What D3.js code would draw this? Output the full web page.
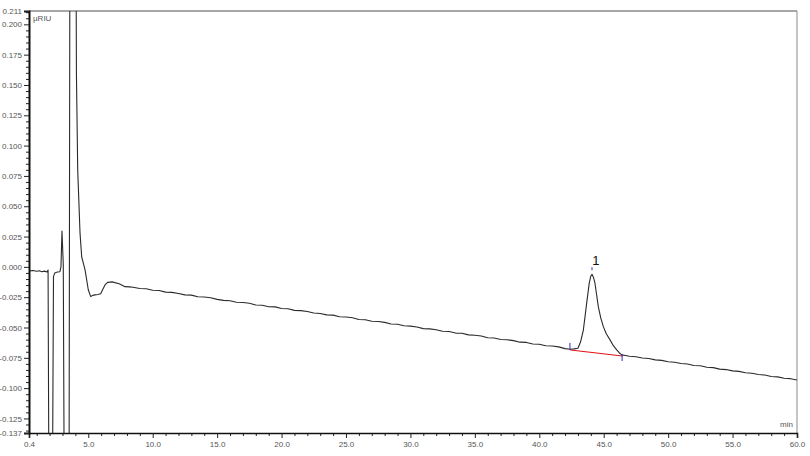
<!DOCTYPE html>
<html><head><meta charset="utf-8">
<script src="https://cdn.jsdelivr.net/npm/d3@7"></script>
<style>
html,body{margin:0;padding:0;background:#fff;}
svg{display:block;}
text{font-family:"Liberation Sans Narrow","Arial Narrow","Liberation Sans",sans-serif;}
</style></head>
<body>
<script>
// ---- data ----
const timeMin = [0.4,0.7,1.0,1.2,1.4,1.6,1.8,1.88,1.97,2.19,2.30,2.40,2.6,2.8,2.88,2.96,3.06,3.16,3.50,3.62,3.80,3.98,4.08,4.18,4.36,4.49,4.75,5.00,5.19,5.35,5.52,5.75,5.96,6.15,6.30,6.5,6.69,6.9,7.07,7.4,7.85,8.2,8.47,
9.0,9.5,10.0,10.5,11.0,11.5,12.0,12.5,13.0,13.5,14.0,14.5,15.0,15.5,16.0,16.5,17.0,17.5,18.0,18.5,19.0,19.5,20.0,20.5,21.0,21.5,22.0,22.5,23.0,23.5,24.0,24.5,25.0,25.5,26.0,26.5,27.0,27.5,28.0,28.5,29.0,29.5,30.0,30.5,31.0,31.5,32.0,32.5,33.0,33.5,34.0,34.5,35.0,35.5,36.0,36.5,37.0,37.5,38.0,38.5,39.0,39.5,40.0,40.5,41.0,41.5,42.0,42.38,42.7,
43.0,43.2,43.42,43.55,43.68,43.88,44.0,44.09,44.2,44.32,44.45,44.58,44.77,44.97,45.2,45.49,45.75,46.01,46.2,46.4,46.7,
47.0,47.5,48.0,48.5,49.0,49.5,50.0,50.5,51.0,51.5,52.0,52.5,53.0,53.5,54.0,54.5,55.0,55.5,56.0,56.5,57.0,57.5,58.0,58.5,59.0,59.5,60.0];
const signal = [-0.0034,-0.0030,-0.0036,-0.0032,-0.0040,-0.0035,-0.0042,-0.0026,-0.25,-0.25,-0.008,-0.0050,-0.0042,-0.0040,0.0000,0.0296,0.002,-0.25,-0.25,0.6,0.9,0.5,0.16,0.080,0.0278,0.0082,-0.0025,-0.0189,-0.0245,-0.0235,-0.0231,-0.0228,-0.0222,-0.0180,-0.0149,-0.0128,-0.0126,-0.0124,-0.0130,-0.0140,-0.0163,-0.0165,-0.0168,
-0.0178,-0.0181,-0.0193,-0.0195,-0.0208,-0.0210,-0.0219,-0.0231,-0.0233,-0.0247,-0.0249,-0.0255,-0.0268,-0.0276,-0.0279,-0.0292,-0.0294,-0.0300,-0.0314,-0.0316,-0.0329,-0.0330,-0.0343,-0.0346,-0.0359,-0.0361,-0.0368,-0.0381,-0.0384,-0.0396,-0.0398,-0.0411,-0.0414,-0.0420,-0.0434,-0.0436,-0.0449,-0.0451,-0.0458,-0.0471,-0.0473,-0.0486,-0.0489,-0.0496,-0.0509,-0.0511,-0.0518,-0.0531,-0.0533,-0.0546,-0.0548,-0.0561,-0.0564,-0.0570,-0.0584,-0.0586,-0.0599,-0.0601,-0.0608,-0.0621,-0.0623,-0.0636,-0.0638,-0.0651,-0.0653,-0.0660,-0.0674,-0.0679,-0.0676,
-0.0671,-0.0620,-0.0521,-0.0410,-0.0297,-0.0132,-0.0075,-0.0061,-0.0085,-0.0135,-0.0230,-0.0328,-0.0420,-0.0493,-0.0552,-0.0602,-0.0650,-0.0685,-0.0708,-0.0726,-0.0731,
-0.0737,-0.0741,-0.0752,-0.0756,-0.0767,-0.0771,-0.0782,-0.0786,-0.0797,-0.0801,-0.0813,-0.0816,-0.0828,-0.0831,-0.0843,-0.0847,-0.0858,-0.0862,-0.0873,-0.0877,-0.0888,-0.0892,-0.0904,-0.0907,-0.0919,-0.0922,-0.0933];

const peakLabels = ["1"];
const peakApexTime = [44.09];
const peakApexValue = [-0.0061];
const peakStartTime = [42.38];
const peakStartValue = [-0.0685];
const peakEndTime = [46.43];
const peakEndValue = [-0.0735];

const xMajorTicks = [0.4,5,10,15,20,25,30,35,40,45,50,55,60];
const xTickLabels = ["0.4","5.0","10.0","15.0","20.0","25.0","30.0","35.0","40.0","45.0","50.0","55.0","60.0"];
const yMajorTicks = [-0.137,-0.125,-0.100,-0.075,-0.050,-0.025,0.000,0.025,0.050,0.075,0.100,0.125,0.150,0.175,0.200,0.211];
const yTickLabels = ["-0.137","-0.125","-0.100","-0.075","-0.050","-0.025","0.000","0.025","0.050","0.075","0.100","0.125","0.150","0.175","0.200","0.211"];
const yUnit = "µRIU";
const xUnit = "min";

// ---- layout ----
const W = 810, H = 456;
const L = 29, R = 797, T = 11, B = 433;

const svg = d3.select("body").append("svg").attr("width", W).attr("height", H);

const x = d3.scaleLinear().domain([0.4, 60]).range([L, R]);
const y = d3.scaleLinear().domain([-0.137, 0.211]).range([B, T]);

// frame (top, right)
svg.append("line").attr("x1", L).attr("x2", R).attr("y1", T).attr("y2", T)
  .attr("stroke", "#8a8a8a").attr("stroke-width", 1.5);
svg.append("line").attr("x1", R).attr("x2", R).attr("y1", T).attr("y2", B)
  .attr("stroke", "#8a8a8a").attr("stroke-width", 1);

// x minor ticks
const xMinor = d3.range(1, 60).filter(v => v % 5 !== 0);
const xAxisMinor = d3.axisBottom(x).tickValues(xMinor).tickSize(3).tickFormat("");
const gxm = svg.append("g").attr("transform", `translate(0,${B})`).call(xAxisMinor);
gxm.select(".domain").remove();
gxm.selectAll("line").attr("stroke", "#222");

const xAxis = d3.axisBottom(x).tickValues(xMajorTicks).tickSize(5)
  .tickFormat((d, i) => xTickLabels[i]).tickPadding(3);
const gx = svg.append("g").attr("transform", `translate(0,${B})`).call(xAxis);
gx.select(".domain").attr("stroke", "#111").attr("stroke-width", 1.6);
gx.selectAll("line").attr("stroke", "#222");
gx.selectAll("text").attr("font-size", 8).attr("fill", "#555")
  .attr("font-family", '"Liberation Sans Narrow","Arial Narrow",sans-serif');

// y minor ticks
const yMinor = d3.range(-135, 211, 5).map(v => v / 1000).filter(v => Math.round(v * 1000) % 25 !== 0);
const yAxisMinor = d3.axisLeft(y).tickValues(yMinor).tickSize(3).tickFormat("");
const gym = svg.append("g").attr("transform", `translate(${L},0)`).call(yAxisMinor);
gym.select(".domain").remove();
gym.selectAll("line").attr("stroke", "#222");

const yAxis = d3.axisLeft(y).tickValues(yMajorTicks).tickSize(5)
  .tickFormat((d, i) => yTickLabels[i]).tickPadding(2);
const gy = svg.append("g").attr("transform", `translate(${L},0)`).call(yAxis);
gy.select(".domain").attr("stroke", "#111").attr("stroke-width", 2);
gy.selectAll("line").attr("stroke", "#222");
gy.selectAll("text").attr("font-size", 8).attr("fill", "#555")
  .attr("font-family", '"Liberation Sans Narrow","Arial Narrow",sans-serif');

// units
svg.append("text").attr("x", L + 4).attr("y", T + 10).text(yUnit)
  .attr("font-size", 8).attr("fill", "#555");
svg.append("text").attr("x", R - 4).attr("y", B - 6).text(xUnit)
  .attr("text-anchor", "end").attr("font-size", 8).attr("fill", "#555");

// clip
svg.append("clipPath").attr("id", "clip").append("rect")
  .attr("x", L + 1).attr("y", T).attr("width", R - L - 1).attr("height", B - T);

const pts = timeMin.map((t, i) => [t, signal[i]]);
const line = d3.line().x(d => x(d[0])).y(d => y(d[1]));
svg.append("path").datum(pts).attr("clip-path", "url(#clip)")
  .attr("d", line).attr("fill", "none").attr("stroke", "#2a2a2a").attr("stroke-width", 1.1)
  .attr("stroke-linejoin", "round");

// peak integration baseline and markers
peakLabels.forEach((lab, i) => {
  svg.append("line")
    .attr("x1", x(peakStartTime[i])).attr("y1", y(peakStartValue[i]))
    .attr("x2", x(peakEndTime[i])).attr("y2", y(peakEndValue[i]))
    .attr("stroke", "#e01010").attr("stroke-width", 1);
  svg.append("line")
    .attr("x1", x(peakStartTime[i])).attr("x2", x(peakStartTime[i]))
    .attr("y1", y(peakStartValue[i]) - 7).attr("y2", y(peakStartValue[i]))
    .attr("stroke", "#2b2bbf").attr("stroke-width", 1);
  svg.append("line")
    .attr("x1", x(peakEndTime[i])).attr("x2", x(peakEndTime[i]))
    .attr("y1", y(peakEndValue[i]) - 2).attr("y2", y(peakEndValue[i]) + 5)
    .attr("stroke", "#2b2bbf").attr("stroke-width", 1);
  svg.append("line")
    .attr("x1", x(peakApexTime[i])).attr("x2", x(peakApexTime[i]))
    .attr("y1", y(peakApexValue[i]) - 7).attr("y2", y(peakApexValue[i]) - 4)
    .attr("stroke", "#2b2bbf").attr("stroke-width", 1);
  svg.append("text")
    .attr("x", x(peakApexTime[i]) + 4).attr("y", y(peakApexValue[i]) - 9)
    .attr("text-anchor", "middle").attr("font-size", 13)
    .attr("font-family", '"Liberation Sans",Arial,sans-serif').attr("fill", "#111")
    .text(lab);
});
</script>
</body></html>
